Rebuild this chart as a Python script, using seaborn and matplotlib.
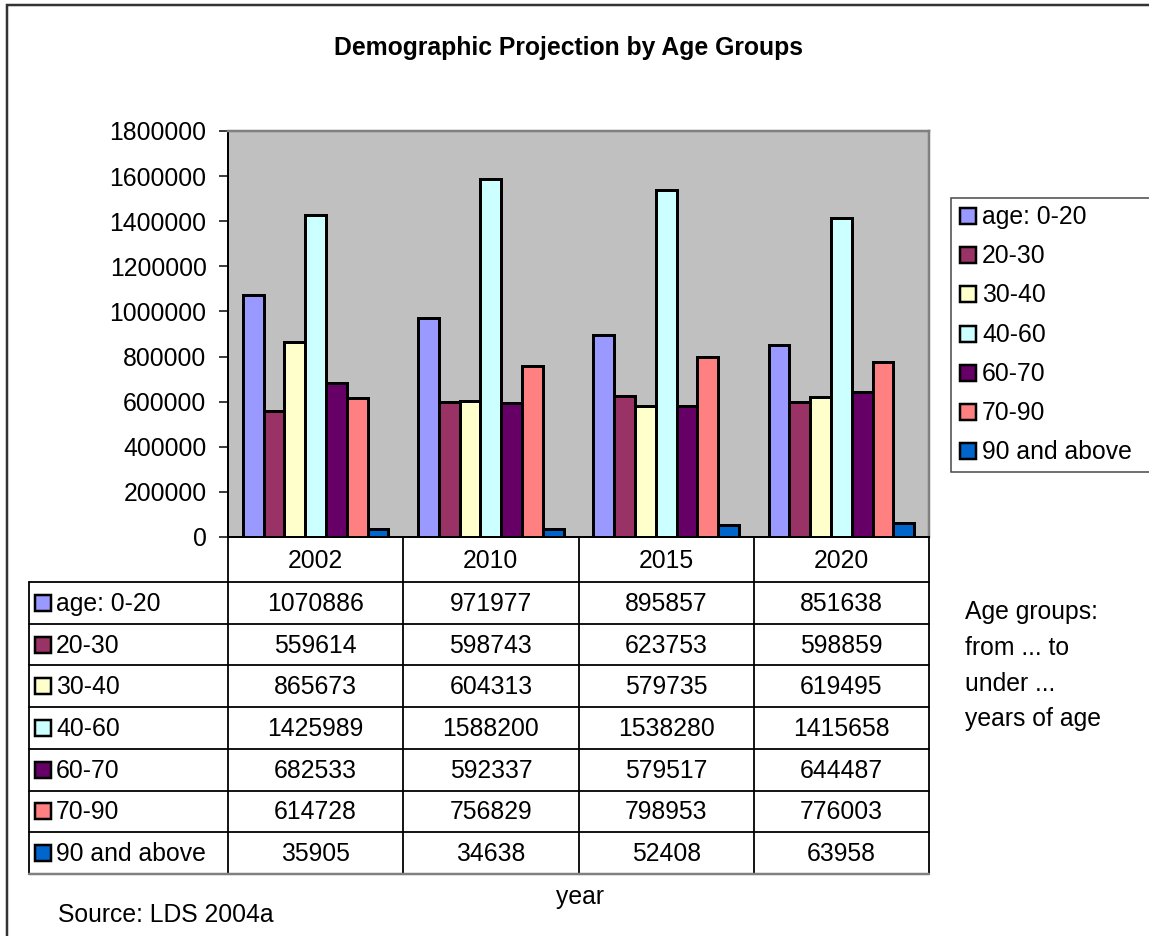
import matplotlib
matplotlib.use("Agg")
import matplotlib.pyplot as plt
from matplotlib.patches import Rectangle
from matplotlib.lines import Line2D
import seaborn as sns
import pandas as pd

# Population projection per age group and year
years = ["2002", "2010", "2015", "2020"]
groups = ["age: 0-20", "20-30", "30-40", "40-60", "60-70", "70-90", "90 and above"]
age_0_20 = [1070886, 971977, 895857, 851638]
age_20_30 = [559614, 598743, 623753, 598859]
age_30_40 = [865673, 604313, 579735, 619495]
age_40_60 = [1425989, 1588200, 1538280, 1415658]
age_60_70 = [682533, 592337, 579517, 644487]
age_70_90 = [614728, 756829, 798953, 776003]
age_90_plus = [35905, 34638, 52408, 63958]
yticks = list(range(0, 1800001, 200000))

colors = ["#9999FF", "#993366", "#FFFFCC", "#CCFFFF", "#660066", "#FF8080", "#0066CC"]

series = [age_0_20, age_20_30, age_30_40, age_40_60, age_60_70, age_70_90, age_90_plus]
rows = []
for g, vals in zip(groups, series):
    for y, v in zip(years, vals):
        rows.append({"year": y, "group": g, "population": v})
df = pd.DataFrame(rows)

sns.set_style("white")
plt.rcParams["font.family"] = ["Liberation Sans", "DejaVu Sans"]
plt.rcParams["font.size"] = 17.8
plt.rcParams["text.color"] = "black"

W, H = 1149, 936
fig = plt.figure(figsize=(W / 100, H / 100), dpi=100)
fig.patch.set_facecolor("white")


def fx(px):
    return px / W


def fy(py):
    return 1 - py / H


PX = 0.72  # one pixel in points

# Outer chart frame
fig.patches.append(Rectangle((fx(7), fy(948)), fx(1160) - fx(7), fy(5) - fy(948),
                             transform=fig.transFigure, fill=False,
                             edgecolor="#333333", linewidth=2.5 * PX, zorder=0))

# Plot area
L, R, T, B = 228, 929, 131, 537
ax = fig.add_axes([fx(L), fy(B), fx(R) - fx(L), fy(T) - fy(B)])
ax.set_facecolor("#C0C0C0")

sns.barplot(data=df, x="year", y="population", hue="group", hue_order=groups,
            order=years, palette=colors, saturation=1, width=0.83, gap=0,
            edgecolor="black", linewidth=3 * PX, errorbar=None, legend=False, ax=ax)

ax.set_xlim(-0.5, len(years) - 0.5)
ax.set_ylim(0, 1800000)
ax.set_yticks(yticks)
ax.set_yticklabels([str(v) for v in yticks])
ax.tick_params(axis="y", direction="out", length=9 * PX, width=1.5 * PX,
               pad=9, colors="black", labelsize=17.8, left=True)
ax.set_xticks([])
ax.set_xlabel("")
ax.set_ylabel("")
for side in ["left", "bottom"]:
    ax.spines[side].set_color("black")
    ax.spines[side].set_linewidth(2 * PX)
for side in ["top", "right"]:
    ax.spines[side].set_color("#808080")
    ax.spines[side].set_linewidth(2.5 * PX)

# Title
fig.text(fx(569), fy(48), "Demographic Projection by Age Groups", ha="center",
         va="center", fontsize=17.8, fontweight="bold", color="black")

# Data table below the plot area
col_edges = [L + i * (R - L) / len(years) for i in range(len(years) + 1)]
label_left = 29
head_top, head_bot = B, 582
row_h = (874 - head_bot) / len(groups)
table_bot = head_bot + row_h * len(groups)
lw = 1.8 * PX


def hline(x0, x1, y, color="black", width=lw):
    fig.lines.append(Line2D([fx(x0), fx(x1)], [fy(y), fy(y)], transform=fig.transFigure,
                            color=color, linewidth=width))


def vline(x, y0, y1, color="black", width=lw):
    fig.lines.append(Line2D([fx(x), fx(x)], [fy(y0), fy(y1)], transform=fig.transFigure,
                            color=color, linewidth=width))


for x in col_edges:
    vline(x, head_top, table_bot)
vline(label_left, head_bot, table_bot)
for i in range(len(groups)):
    hline(label_left, R, head_bot + i * row_h)
hline(label_left, R, table_bot, color="#808080", width=2.5 * PX)

for i, yr in enumerate(years):
    cx = (col_edges[i] + col_edges[i + 1]) / 2
    fig.text(fx(cx), fy((head_top + head_bot) / 2 + 1), yr, ha="center", va="center")

sq = 16
for r, (g, c, vals) in enumerate(zip(groups, colors, series)):
    cy = head_bot + (r + 0.5) * row_h
    fig.patches.append(Rectangle((fx(35), fy(cy + sq / 2)), fx(sq), sq / H,
                                 transform=fig.transFigure, facecolor=c,
                                 edgecolor="black", linewidth=2.5 * PX))
    fig.text(fx(56), fy(cy + 1), g, ha="left", va="center")
    for i, v in enumerate(vals):
        cx = (col_edges[i] + col_edges[i + 1]) / 2
        fig.text(fx(cx), fy(cy + 1), str(v), ha="center", va="center")

# Legend
fig.patches.append(Rectangle((fx(951), fy(472)), fx(1165) - fx(951), fy(198) - fy(472),
                             transform=fig.transFigure, facecolor="white",
                             edgecolor="#444444", linewidth=1.5 * PX))
for i, (g, c) in enumerate(zip(groups, colors)):
    cy = 216 + i * 39.2
    fig.patches.append(Rectangle((fx(960), fy(cy + sq / 2)), fx(sq), sq / H,
                                 transform=fig.transFigure, facecolor=c,
                                 edgecolor="black", linewidth=2.5 * PX))
    fig.text(fx(982), fy(cy + 1), g, ha="left", va="center")

# Notes
fig.text(fx(965), fy(612), "Age groups:", ha="left", va="center")
fig.text(fx(965), fy(648), "from ... to", ha="left", va="center")
fig.text(fx(965), fy(684), "under ...", ha="left", va="center")
fig.text(fx(965), fy(719), "years of age", ha="left", va="center")
fig.text(fx(580), fy(897), "year", ha="center", va="center")
fig.text(fx(58), fy(915), "Source: LDS 2004a", ha="left", va="center")

fig.savefig("out.png", dpi=100, facecolor="white")
